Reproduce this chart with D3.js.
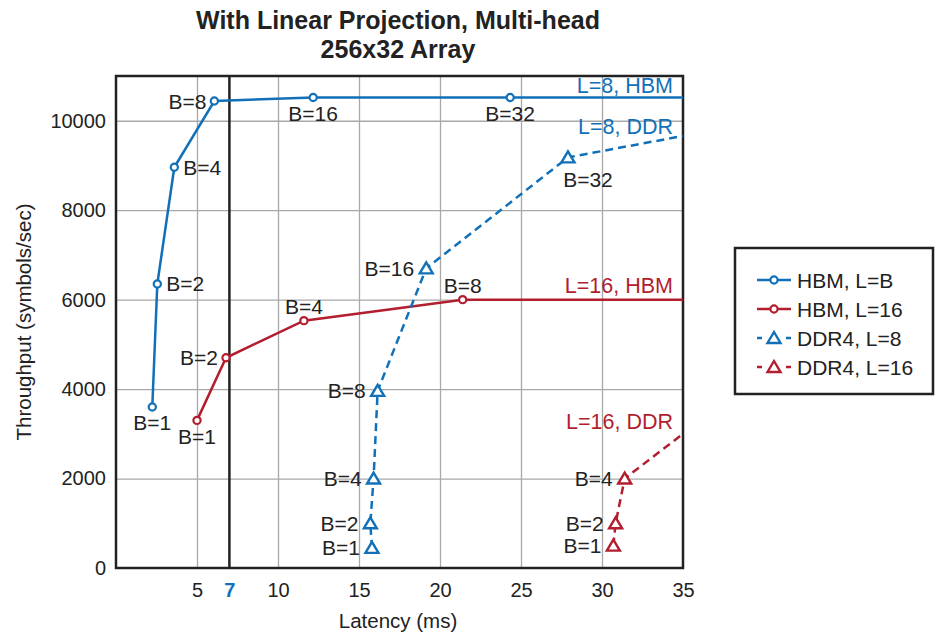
<!DOCTYPE html>
<html>
<head>
<meta charset="utf-8">
<script src="https://cdn.jsdelivr.net/npm/d3@7"></script>
<style>
  body { margin: 0; background: #fff; }
  svg { display: block; font-family: "Liberation Sans", Arial, sans-serif; }
</style>
</head>
<body>
<svg id="chart"></svg>
<script>
"use strict";

/*
*  DATA
*/

var xTicks = [5, 7, 10, 15, 20, 25, 30, 35];
var yTicks = [0, 2000, 4000, 6000, 8000, 10000];
var xMax = 35;

// HBM, L=B (blue, circles)
var hbmL8Latency = [2.24, 2.55, 3.6, 6.07, 12.17, 24.33];
var hbmL8Throughput = [3600, 6350, 8960, 10440, 10520, 10520];
var hbmL8Batch = [1, 2, 4, 8, 16, 32];
var hbmL8Tail = 10520;

// HBM, L=16 (red, circles)
var hbmL16Latency = [5.0, 6.79, 11.6, 21.4];
var hbmL16Throughput = [3300, 4700, 5530, 6000];
var hbmL16Batch = [1, 2, 4, 8];
var hbmL16Tail = 6000;

// DDR4, L=8 (blue, triangles, dashed)
var ddrL8Latency = [15.8, 15.7, 15.9, 16.15, 19.15, 27.9];
var ddrL8Throughput = [450, 1000, 2000, 3960, 6700, 9180];
var ddrL8Batch = [1, 2, 4, 8, 16, 32];
var ddrL8Tail = 9660;

// DDR4, L=16 (red, triangles, dashed)
var ddrL16Latency = [30.7, 30.84, 31.4];
var ddrL16Throughput = [500, 1000, 2000];
var ddrL16Batch = [1, 2, 4];
var ddrL16Tail = 3000;

var legendLabels = ["HBM, L=B", "HBM, L=16", "DDR4, L=8", "DDR4, L=16"];
var endLabels = ["L=8, HBM", "L=16, HBM", "L=8, DDR", "L=16, DDR"];

/*
*  LAYOUT
*/

var BLUE = "#1170b8", RED = "#b31e2f", GRID = "#a8a8a8", INK = "#222";
var width = 935, height = 637;
var margin = { left: 116, right: 252, top: 76, bottom: 69 };

var svg = d3.select("#chart").attr("width", width).attr("height", height);

var x = d3.scaleLinear().domain([0, xMax]).range([margin.left, width - margin.right]);
var y = d3.scaleLinear().domain([0, 11000]).range([height - margin.bottom, margin.top]);

// label placement per point: l=left, r=right, b=below, a=above, br=below-right
var series = [
  { lat: hbmL8Latency, thr: hbmL8Throughput, batch: hbmL8Batch, tail: hbmL8Tail, color: BLUE, dashed: false, marker: "circle",
    place: ["b", "r", "r", "l", "b", "b"], end: endLabels[0], endDy: -4 },
  { lat: hbmL16Latency, thr: hbmL16Throughput, batch: hbmL16Batch, tail: hbmL16Tail, color: RED, dashed: false, marker: "circle",
    place: ["b", "l", "a", "a"], end: endLabels[1], endDy: -7 },
  { lat: ddrL8Latency, thr: ddrL8Throughput, batch: ddrL8Batch, tail: ddrL8Tail, color: BLUE, dashed: true, marker: "tri",
    place: ["l", "l", "l", "l", "l", "br"], end: endLabels[2], endDy: -2 },
  { lat: ddrL16Latency, thr: ddrL16Throughput, batch: ddrL16Batch, tail: ddrL16Tail, color: RED, dashed: true, marker: "tri",
    place: ["l", "l", "l"], end: endLabels[3], endDy: -5 }
];

var triPath = "M0,-6L6.5,5L-6.5,5Z";

/*
*  GRID + FRAME
*/

svg.append("g").attr("class", "grid-x")
  .attr("transform", "translate(0," + (height - margin.bottom) + ")")
  .call(d3.axisBottom(x).tickValues(xTicks.filter(function (t) { return t !== 7 && t !== xMax; }))
    .tickSize(-(height - margin.top - margin.bottom)).tickFormat(""))
  .call(function (g) { g.select(".domain").remove(); })
  .selectAll("line").attr("stroke", GRID).attr("stroke-width", 1.3);

svg.append("g").attr("class", "grid-y")
  .attr("transform", "translate(" + margin.left + ",0)")
  .call(d3.axisLeft(y).tickValues(yTicks.filter(function (t) { return t > 0; }))
    .tickSize(-(width - margin.left - margin.right)).tickFormat(""))
  .call(function (g) { g.select(".domain").remove(); })
  .selectAll("line").attr("stroke", GRID).attr("stroke-width", 1.3);

// tick labels
var xAxis = svg.append("g")
  .attr("transform", "translate(0," + (height - margin.bottom) + ")")
  .call(d3.axisBottom(x).tickValues(xTicks).tickSize(0).tickPadding(15).tickFormat(d3.format("d")));
xAxis.select(".domain").remove();
xAxis.selectAll("text")
  .attr("font-size", 20).attr("font-family", "Liberation Sans, Arial, sans-serif")
  .attr("fill", function (d) { return d === 7 ? BLUE : INK; })
  .attr("font-weight", function (d) { return d === 7 ? "bold" : "normal"; });

var yAxis = svg.append("g")
  .attr("transform", "translate(" + margin.left + ",0)")
  .call(d3.axisLeft(y).tickValues(yTicks).tickSize(0).tickPadding(10).tickFormat(d3.format("d")));
yAxis.select(".domain").remove();
yAxis.selectAll("text")
  .attr("font-size", 20).attr("font-family", "Liberation Sans, Arial, sans-serif").attr("fill", INK);

// latency cutoff line
svg.append("line")
  .attr("x1", x(7)).attr("x2", x(7))
  .attr("y1", y(0)).attr("y2", y(11000))
  .attr("stroke", INK).attr("stroke-width", 2.5);

svg.append("rect")
  .attr("x", margin.left).attr("y", margin.top)
  .attr("width", width - margin.left - margin.right)
  .attr("height", height - margin.top - margin.bottom)
  .attr("fill", "none").attr("stroke", INK).attr("stroke-width", 2.5);

/*
*  SERIES
*/

var line = d3.line().x(function (d) { return x(d[0]); }).y(function (d) { return y(d[1]); });

series.forEach(function (s) {
  var pts = s.lat.map(function (v, i) { return [v, s.thr[i]]; });
  pts.push([xMax, s.tail]);

  svg.append("path")
    .attr("d", line(pts))
    .attr("fill", "none")
    .attr("stroke", s.color)
    .attr("stroke-width", 2.5)
    .attr("stroke-dasharray", s.dashed ? "8,5" : null);

  var marks = svg.append("g").selectAll("g")
    .data(pts.slice(0, -1)).enter().append("g")
    .attr("transform", function (d) { return "translate(" + x(d[0]) + "," + y(d[1]) + ")"; });

  if (s.marker === "circle") {
    marks.append("circle").attr("r", 3.6)
      .attr("fill", "#fff").attr("stroke", s.color).attr("stroke-width", 2.2);
  } else {
    marks.append("path").attr("d", triPath)
      .attr("fill", "#fff").attr("stroke", s.color).attr("stroke-width", 2.4);
  }

  var gap = s.marker === "circle" ? 8 : 12;
  marks.append("text")
    .attr("font-size", 21).attr("fill", INK)
    .attr("dominant-baseline", "central")
    .attr("text-anchor", function (d, i) {
      var p = s.place[i];
      return p === "l" ? "end" : (p === "r" ? "start" : "middle");
    })
    .attr("x", function (d, i) {
      var p = s.place[i];
      if (p === "l") return -gap;
      if (p === "r") return 9;
      if (p === "br") return 20;
      return 0;
    })
    .attr("y", function (d, i) {
      var p = s.place[i];
      if (p === "b") return 16;
      if (p === "a") return -14;
      if (p === "br") return 22;
      return 0;
    })
    .text(function (d, i) { return "B=" + s.batch[i]; });

  svg.append("text")
    .attr("x", x(xMax) - 10)
    .attr("y", y(s.tail) + s.endDy)
    .attr("text-anchor", "end")
    .attr("font-size", 21.5)
    .attr("fill", s.color)
    .text(s.end);
});

/*
*  TITLES
*/

svg.append("text").attr("x", 398).attr("y", 29).attr("text-anchor", "middle")
  .attr("font-size", 25).attr("font-weight", "bold").attr("fill", INK)
  .text("With Linear Projection, Multi-head");
svg.append("text").attr("x", 398).attr("y", 58).attr("text-anchor", "middle")
  .attr("font-size", 25).attr("font-weight", "bold").attr("fill", INK)
  .text("256x32 Array");

svg.append("text").attr("x", 398).attr("y", 628).attr("text-anchor", "middle")
  .attr("font-size", 20.5).attr("fill", INK).text("Latency (ms)");

svg.append("text")
  .attr("transform", "translate(31,322) rotate(-90)")
  .attr("text-anchor", "middle")
  .attr("font-size", 20.5).attr("fill", INK).text("Throughput (symbols/sec)");

/*
*  LEGEND
*/

var legend = svg.append("g").attr("transform", "translate(735,248)");
legend.append("rect").attr("width", 198).attr("height", 146)
  .attr("fill", "#fff").attr("stroke", INK).attr("stroke-width", 2.5);

var rows = legend.selectAll("g.row").data(series).enter().append("g")
  .attr("class", "row")
  .attr("transform", function (d, i) { return "translate(0," + (32 + i * 29) + ")"; });

rows.append("line").attr("x1", 22).attr("x2", 56)
  .attr("stroke", function (d) { return d.color; })
  .attr("stroke-width", 2.5)
  .attr("stroke-dasharray", function (d) { return d.dashed ? "5,8,8,8,5" : null; });

rows.each(function (d) {
  var r = d3.select(this);
  if (d.marker === "circle") {
    r.append("circle").attr("cx", 39).attr("r", 3.6)
      .attr("fill", "#fff").attr("stroke", d.color).attr("stroke-width", 2.2);
  } else {
    r.append("path").attr("d", triPath).attr("transform", "translate(39,0)")
      .attr("fill", "#fff").attr("stroke", d.color).attr("stroke-width", 2.4);
  }
});

rows.append("text").attr("x", 62).attr("dominant-baseline", "central")
  .attr("font-size", 21).attr("fill", INK)
  .text(function (d, i) { return legendLabels[i]; });
</script>
</body>
</html>
